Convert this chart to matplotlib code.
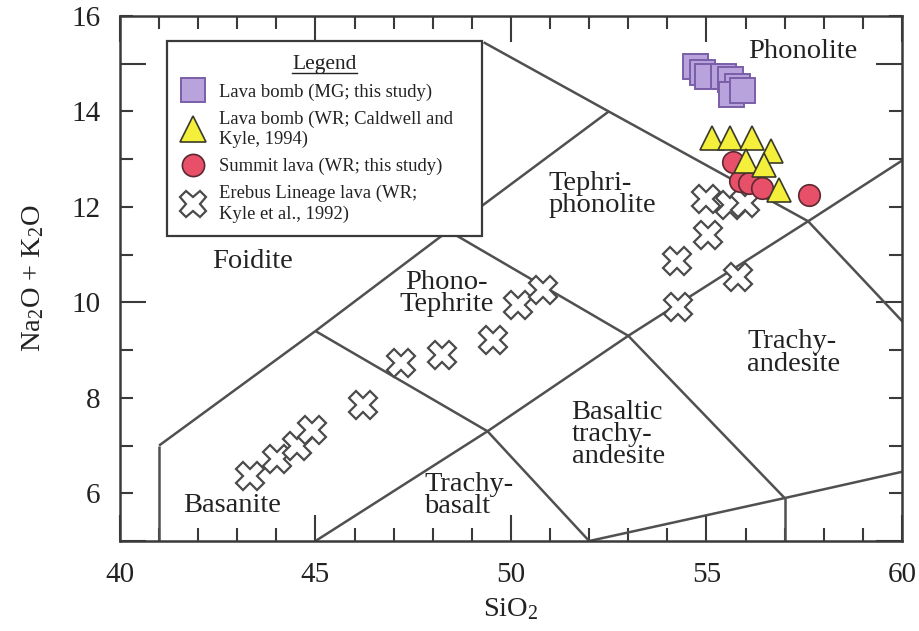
import matplotlib
matplotlib.use('Agg')
import matplotlib.pyplot as plt
from matplotlib.lines import Line2D
from matplotlib.transforms import IdentityTransform
from matplotlib.ticker import MultipleLocator, FixedLocator, FuncFormatter

plt.rcParams['font.family'] = ['Liberation Serif', 'DejaVu Serif']
plt.rcParams['mathtext.fontset'] = 'custom'
plt.rcParams['mathtext.rm'] = 'Liberation Serif'
plt.rcParams['mathtext.it'] = 'Liberation Serif:italic'

# --- data ---
bomb_mg_sio2 = [54.71, 54.88, 55.01, 55.43, 55.60, 55.77, 55.64, 55.90]
bomb_mg_alk = [14.96, 14.83, 14.75, 14.75, 14.68, 14.54, 14.37, 14.44]

bomb_wr_sio2 = [55.15, 55.60, 56.17, 56.65, 56.00, 56.47, 56.86]
bomb_wr_alk = [13.45, 13.45, 13.45, 13.17, 12.96, 12.87, 12.36]

summit_sio2 = [55.69, 55.86, 56.08, 56.41, 57.63]
summit_alk = [12.95, 12.54, 12.50, 12.40, 12.24]

erebus_sio2 = [43.32, 44.01, 44.52, 44.90, 46.22, 47.20, 48.23, 49.55, 50.19, 50.83,
               54.28, 54.24, 55.81, 55.05, 55.00, 55.60, 55.98]
erebus_alk = [6.37, 6.72, 7.00, 7.32, 7.84, 8.72, 8.89, 9.21, 9.95, 10.26,
              9.91, 10.86, 10.54, 11.42, 12.16, 12.05, 12.09]

# TAS field boundaries (SiO2 list, alkali list)
tas_lines = [
    ([41, 41], [5, 7]),
    ([41, 45, 48.4, 52.5, 57.6, 63], [7, 9.4, 11.5, 14, 11.7, 7]),
    ([52.5, 49.3], [14, 15.45]),
    ([45, 49.4, 53, 57.6, 61], [5, 7.3, 9.3, 11.7, 13.5]),
    ([45, 49.4, 52], [9.4, 7.3, 5]),
    ([48.4, 53, 57], [11.5, 9.3, 5.9]),
    ([52, 57, 63], [5, 5.9, 7]),
    ([57, 57], [5, 5.9]),
]

# field names: text, x, y, horizontal alignment
field_names = [
    ('Phonolite', 57.47, 15.25, 'center'),
    ('Tephri-\nphonolite', 50.95, 12.26, 'left'),
    ('Foidite', 43.38, 10.85, 'center'),
    ('Phono-\nTephrite', 48.36, 10.18, 'center'),
    ('Trachy-\nandesite', 56.04, 8.94, 'left'),
    ('Basaltic\ntrachy-\nandesite', 51.55, 7.23, 'left'),
    ('Trachy-\nbasalt', 47.78, 5.95, 'left'),
    ('Basanite', 42.86, 5.74, 'center'),
]

line_col = '#505050'
frame_col = '#3a3a3a'
text_col = '#222222'

fig = plt.figure(figsize=(9.2, 6.31), dpi=100)
ax = fig.add_axes([0.1304, 0.1426, 0.8500, 0.8320])

for xs, ys in tas_lines:
    ax.plot(xs, ys, color=line_col, lw=1.8, solid_capstyle='butt', zorder=2)

for txt, x, y, ha in field_names:
    ax.text(x, y, txt, ha=ha, va='center', multialignment=ha, fontsize=20.5,
            linespacing=0.85, color=text_col, zorder=2)

h_erebus, = ax.plot(erebus_sio2, erebus_alk, ls='none', marker='X', ms=20,
                    mfc='white', mec='#4a4a4a', mew=1.6, zorder=3)
h_summit, = ax.plot(summit_sio2, summit_alk, ls='none', marker='o', ms=15.5,
                    mfc='#e8506a', mec='#5a2a30', mew=1.2, zorder=4)
h_wr, = ax.plot(bomb_wr_sio2, bomb_wr_alk, ls='none', marker='^', ms=17,
                mfc='#f3ef3a', mec='#3a3a2a', mew=1.2, zorder=5)
h_mg, = ax.plot(bomb_mg_sio2, bomb_mg_alk, ls='none', marker='s', ms=18,
                mfc='#b9a3dc', mec='#7a5fa8', mew=1.4, zorder=6)

ax.set_xlim(40, 60)
ax.set_ylim(5, 16)

ax.xaxis.set_major_locator(MultipleLocator(5))
ax.xaxis.set_minor_locator(MultipleLocator(1))
ax.yaxis.set_major_locator(FixedLocator([5, 10, 15]))
ax.yaxis.set_minor_locator(MultipleLocator(1))
ax.yaxis.set_major_formatter(FuncFormatter(lambda v, p: '10' if v == 10 else ''))
ax.yaxis.set_minor_formatter(FuncFormatter(lambda v, p: f'{v:.0f}' if v % 2 == 0 else ''))

ax.tick_params(which='both', direction='in', top=True, right=True,
               width=1.5, color=frame_col, labelsize=21, labelcolor=text_col)
ax.tick_params(which='major', length=19)
ax.tick_params(which='minor', length=9.5)
ax.tick_params(axis='x', which='both', pad=15)
ax.tick_params(axis='y', which='both', pad=14)

for s in ax.spines.values():
    s.set_linewidth(1.8)
    s.set_color(frame_col)

ax.set_xlabel('SiO$_2$', fontsize=20.5, color=text_col, labelpad=6)
ax.set_ylabel('Na$_2$O + K$_2$O', fontsize=20.5, color=text_col, labelpad=18)

labels = ['Lava bomb (MG; this study)',
          'Lava bomb (WR; Caldwell and\nKyle, 1994)',
          'Summit lava (WR; this study)',
          'Erebus Lineage lava (WR;\nKyle et al., 1992)']
leg = ax.legend([h_mg, h_wr, h_summit, h_erebus], labels,
                loc='upper left', bbox_to_anchor=(0.060, 0.583, 0.403, 0.369),
                mode='expand', borderaxespad=0, fancybox=False, framealpha=1,
                edgecolor=frame_col, fontsize=13.4, title='Legend',
                title_fontsize=15.5, handlelength=1.4, handletextpad=0.7,
                labelspacing=0.52, borderpad=0.72, numpoints=1)
leg.get_frame().set_linewidth(1.6)
leg.set_zorder(10)
for t in leg.get_texts():
    t.set_color(text_col)
    t.set_linespacing(1.25)
leg.get_title().set_color(text_col)
for hd, ms in zip(leg.legend_handles, [17, 19, 16, 19]):
    hd.set_markersize(ms)

# underline the legend title
fig.canvas.draw()
bb = leg.get_title().get_window_extent(fig.canvas.get_renderer())
fig.add_artist(Line2D([bb.x0, bb.x1], [bb.y0 + 1, bb.y0 + 1], transform=IdentityTransform(),
                      color=text_col, lw=1.0, zorder=11))

fig.savefig('out.png', dpi=100)
